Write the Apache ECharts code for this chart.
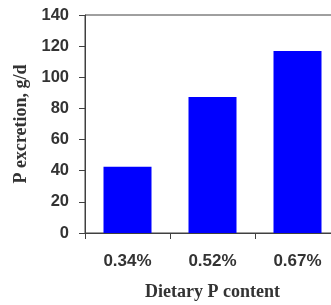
<!DOCTYPE html>
<html>
<head>
<meta charset="utf-8">
<script src="https://cdn.jsdelivr.net/npm/echarts@6/dist/echarts.min.js"></script>
<style>
  html, body { margin: 0; padding: 0; background: #fff; }
  #chart { width: 331px; height: 305px; }
</style>
</head>
<body>
<div id="chart"></div>
<script>
const categories = ['0.34%', '0.52%', '0.67%'];
const excretion = [42.6, 87.3, 116.9];

const chart = echarts.init(document.getElementById('chart'), null, { renderer: 'canvas' });

const axisColor = '#404040';
const textColor = '#333333';

chart.setOption({
  animation: false,
  grid: {
    left: 85,
    top: 15,
    width: 255,
    height: 218,
    containLabel: false,
    outerBoundsMode: 'none',
    show: true,
    borderColor: axisColor,
    borderWidth: 1
  },
  xAxis: {
    type: 'category',
    data: categories,
    name: 'Dietary P content',
    nameLocation: 'middle',
    nameGap: 50,
    nameTextStyle: {
      fontFamily: 'Liberation Serif',
      fontWeight: 'bold',
      fontSize: 18,
      color: textColor
    },
    axisLine: { lineStyle: { color: axisColor, width: 1 } },
    axisTick: { show: true, alignWithLabel: false, length: 6, lineStyle: { color: axisColor } },
    axisLabel: {
      margin: 20,
      fontFamily: 'Liberation Sans',
      fontWeight: 'bold',
      fontSize: 17,
      color: textColor
    }
  },
  yAxis: {
    type: 'value',
    min: 0,
    max: 140,
    interval: 20,
    name: 'P excretion, g/d',
    nameLocation: 'middle',
    nameGap: 52,
    nameTextStyle: {
      fontFamily: 'Liberation Serif',
      fontWeight: 'bold',
      fontSize: 18,
      color: textColor
    },
    axisLine: { show: true, lineStyle: { color: axisColor, width: 1 } },
    axisTick: { show: true, length: 6, lineStyle: { color: axisColor } },
    splitLine: { show: false },
    axisLabel: {
      margin: 16,
      fontFamily: 'Liberation Sans',
      fontWeight: 'bold',
      fontSize: 16.5,
      color: textColor
    }
  },
  series: [{
    type: 'bar',
    data: excretion,
    barWidth: 48,
    itemStyle: { color: '#0000ff' }
  }]
});
</script>
</body>
</html>
